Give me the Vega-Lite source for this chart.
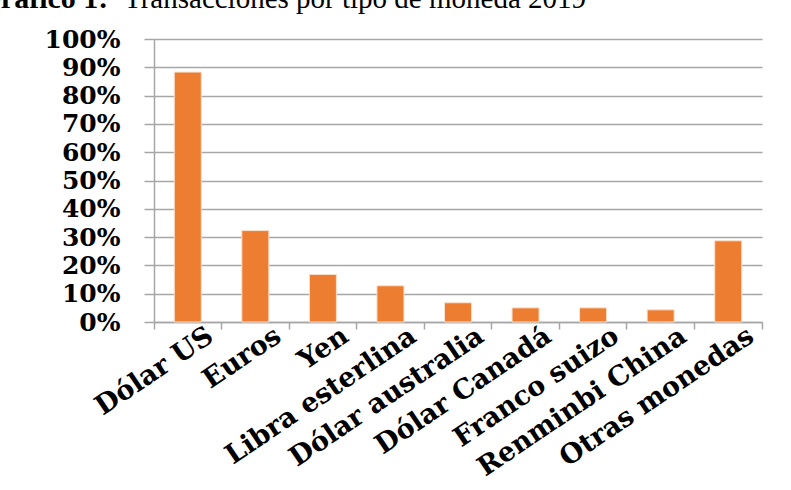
{
  "$schema": "https://vega.github.io/schema/vega-lite/v6.json",
  "width": 608,
  "height": 283,
  "autosize": {"type": "none"},
  "padding": {"left": 154, "top": 39, "right": 29, "bottom": 168},
  "background": "white",
  "title": {
    "text": "Transacciones por tipo de moneda 2019",
    "anchor": "start",
    "frame": "group",
    "font": "Liberation Serif",
    "fontSize": 29,
    "fontWeight": "normal",
    "color": "black",
    "baseline": "alphabetic",
    "offset": 0,
    "dx": -30,
    "dy": 54
  },
  "data": {
    "values": [
      {"moneda": "Dólar US", "pct": 0.883},
      {"moneda": "Euros", "pct": 0.323},
      {"moneda": "Yen", "pct": 0.168},
      {"moneda": "Libra esterlina", "pct": 0.128},
      {"moneda": "Dólar australia", "pct": 0.068},
      {"moneda": "Dólar Canadá", "pct": 0.05},
      {"moneda": "Franco suizo", "pct": 0.05},
      {"moneda": "Renminbi China", "pct": 0.043},
      {"moneda": "Otras monedas", "pct": 0.287}
    ]
  },
  "mark": {"type": "bar", "color": "#ED7D31", "stroke": "#fbe0cc", "strokeWidth": 1, "width": {"band": 0.4}},
  "encoding": {
    "x": {
      "field": "moneda",
      "type": "nominal",
      "sort": null,
      "scale": {"paddingInner": 0, "paddingOuter": 0},
      "axis": {
        "title": null,
        "bandPosition": 1,
        "tickExtra": true,
        "labelAngle": -34,
        "labelAlign": "right",
        "labelBaseline": "middle",
        "labelFont": "DejaVu Serif",
        "labelFontWeight": "bold",
        "labelFontSize": 27,
        "labelColor": "black",
        "labelPadding": 4,
        "labelOffset": 23,
        "labelLimit": 400,
        "labelOverlap": false,
        "tickSize": 7,
        "tickColor": "#a6a6a6",
        "tickWidth": 1.5,
        "domainColor": "#a6a6a6",
        "domainWidth": 1.5
      }
    },
    "y": {
      "field": "pct",
      "type": "quantitative",
      "scale": {"domain": [0, 1], "nice": false},
      "axis": {
        "title": "Gráfico 1:",
        "titleAngle": 0,
        "titleX": -177,
        "titleY": -32,
        "titleAlign": "left",
        "titleBaseline": "alphabetic",
        "titleFont": "Liberation Serif",
        "titleFontSize": 30,
        "titleFontWeight": "bold",
        "titleColor": "black",
        "values": [0, 0.1, 0.2, 0.3, 0.4, 0.5, 0.6, 0.7, 0.8, 0.9, 1],
        "format": ".0%",
        "labelFont": "DejaVu Serif",
        "labelFontWeight": "bold",
        "labelFontSize": 25,
        "labelColor": "black",
        "labelPadding": 24,
        "tickSize": 10,
        "tickColor": "#a6a6a6",
        "tickWidth": 1.5,
        "domainColor": "#a6a6a6",
        "domainWidth": 1.5,
        "gridColor": "#a6a6a6",
        "gridWidth": 1.5
      }
    }
  },
  "config": {"view": {"stroke": null}}
}
